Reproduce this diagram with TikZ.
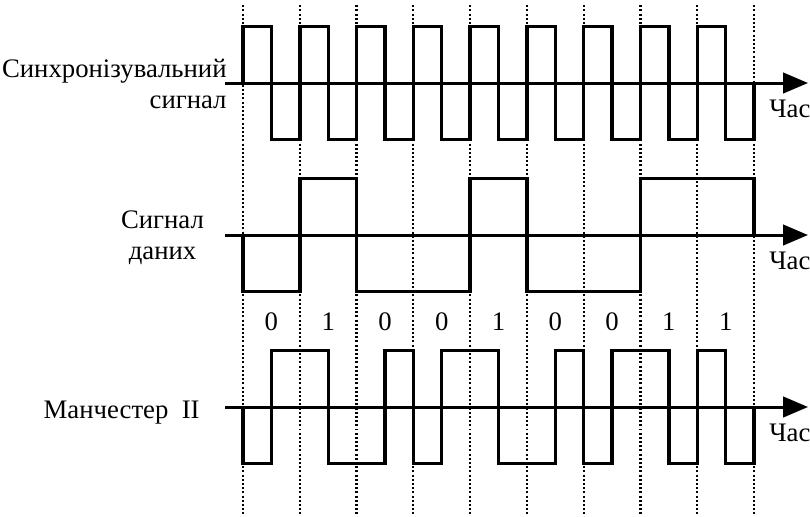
\documentclass[tikz,border=0pt]{standalone}
\usepackage{fontspec}
\setmainfont{Liberation Serif}
\usetikzlibrary{arrows.meta}

\tikzset{
  signal/.style={line width=1.7pt, line join=miter},
  axisline/.style={line width=1.5pt, -{Triangle[length=0.44cm,width=0.36cm]}},
  tickline/.style={line width=1.1pt, dash pattern=on 1pt off 1.1pt},
  lbl/.style={font=\fontsize{13.4}{15.6}\selectfont, inner sep=0pt},
}

\begin{document}
\begin{tikzpicture}
    \useasboundingbox (-4.28,-7.643) rectangle (9.985,1.462);
    % Межі тактів
    \foreach \x in {0,...,9}
        \draw[tickline] (\x,1.37) -- (\x,-7.643);
    % Осі часу
    \foreach \y/\n in {0/clk,-2.677/dat,-5.706/man} {
        \coordinate (\n-start) at (-0.317,\y);
        \coordinate (\n-end) at (9.95,\y);
        \draw[axisline] (\n-start) -- (\n-end);
        \node[lbl, anchor=north] (\n-time) at (9.63,\y-0.3) {Час};
    }
    % Синхронізувальний сигнал
    \draw[signal] (0,0) \foreach \i in {0,...,8} { -- (\i,1) -- (\i+0.5,1) -- (\i+0.5,-1) -- (\i+1,-1) } -- (9,0);
    % Сигнал даних
    \begin{scope}[yshift=-2.677cm]
        \draw[signal] (0,0) \foreach \b [count=\i from 0, evaluate=\b as \lv using 2*\b-1] in {0,1,0,0,1,0,0,1,1} { -- (\i,\lv) -- (\i+1,\lv) } -- (9,0);
    \end{scope}
    % Манчестер II
    \begin{scope}[yshift=-5.706cm]
        \draw[signal] (0,0) \foreach \b [count=\i from 0, evaluate=\b as \first using 2*\b-1, evaluate=\b as \second using 1-2*\b] in {0,1,0,0,1,0,0,1,1} { -- (\i,\first) -- (\i+0.5,\first) -- (\i+0.5,\second) -- (\i+1,\second) } -- (9,0);
    \end{scope}
    % Біти
    \foreach \b [count=\i from 0] in {0,1,0,0,1,0,0,1,1}
        \node[lbl] (bit\i) at (\i+0.5,-4.21) {\b};
    % Підписи
    \node[lbl, anchor=east, align=right] (clk-name) at (-0.282,-0.02) {Синхронізувальний\\сигнал};
    \node[lbl, align=center] (dat-name) at (-1.418,-2.72) {Сигнал\\даних};
    \node[lbl, anchor=base east] (man-name) at (-0.757,-5.90) {Манчестер~~II};
\end{tikzpicture}
\end{document}
